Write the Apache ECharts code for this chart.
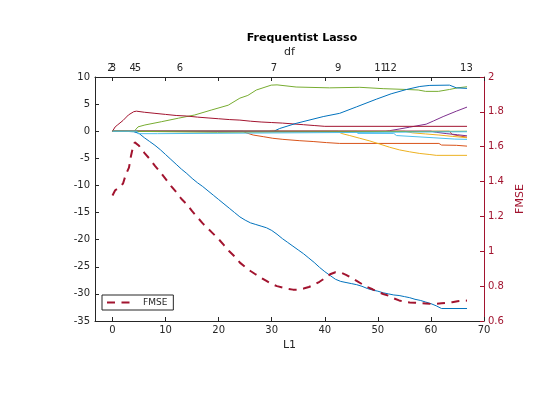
<!DOCTYPE html>
<html><head><meta charset="utf-8">
<script src="https://cdn.jsdelivr.net/npm/echarts@6/dist/echarts.min.js"></script>
<style>html,body{margin:0;padding:0;background:#fff}#c{width:560px;height:395px}</style>
</head><body><div id="c"></div>
<script>
// ---- data ----
const xMin = -3.3, xMax = 70;
const xTicks = [0, 10, 20, 30, 40, 50, 60, 70];
const dfLabels = ['2', '3', '4', '5', '6', '7', '9', '11', '12', '13'];
const dfPos = [-0.4, 0.1, 3.8, 4.8, 12.7, 30.4, 42.5, 50.5, 52.4, 66.7];

const coefA = [[0,0],[2,0],[4,-0.1],[5,-0.4],[6,-1.2],[7,-1.9],[8,-2.6],[9,-3.4],[10,-4.3],[11,-5.2],[12,-6.1],[13,-7.0],[14,-7.8],[15,-8.7],[16,-9.5],[17,-10.2],[18,-11.0],[19,-11.8],[20,-12.6],[21,-13.4],[22,-14.2],[23,-15.0],[24,-15.8],[25,-16.4],[26,-16.9],[27,-17.2],[28,-17.5],[29,-17.8],[30,-18.3],[31,-19.0],[32,-19.8],[33,-20.5],[34,-21.2],[35,-21.9],[36,-22.6],[37,-23.4],[38,-24.2],[39,-25.1],[40,-25.9],[41,-26.6],[42,-27.3],[43,-27.7],[44,-27.9],[45,-28.1],[46,-28.3],[47,-28.6],[48,-29.0],[49,-29.3],[50,-29.5],[51,-29.8],[52,-30.0],[53,-30.2],[54,-30.3],[55,-30.5],[56,-30.7],[57,-31.0],[58,-31.2],[59,-31.5],[60,-31.8],[61,-32.2],[62,-32.7],[66.8,-32.7]];
const coefC = [[0,0],[24.5,0],[25.2,-0.3],[26.5,-0.7],[28.4,-1.0],[30.2,-1.3],[32.1,-1.5],[35.3,-1.75],[37.8,-1.9],[40.3,-2.1],[42.8,-2.25],[61.5,-2.25],[62,-2.55],[64.8,-2.6],[65,-2.75],[66.8,-2.75]];
const coefE = [[0,0],[29.5,0],[30,0.15],[31,0.15],[31.5,0],[42.5,0],[43.1,-0.4],[44.7,-0.8],[46.6,-1.3],[48.5,-1.8],[50.3,-2.35],[52.2,-2.95],[54.1,-3.45],[56,-3.8],[57.9,-4.1],[59.8,-4.3],[61,-4.45],[66.8,-4.45]];
const coefG = [[0,0],[51.5,0],[52.2,0.1],[54,0.4],[56,0.75],[59.1,1.3],[60.5,1.9],[62.3,2.7],[64.8,3.7],[66.8,4.45]];
const coefI = [[0,0],[4.1,0],[4.8,0.8],[6.1,1.15],[9.2,1.75],[12.4,2.4],[15.5,3.0],[18.6,3.9],[21.8,4.8],[24,6.1],[25.5,6.6],[27.1,7.6],[29.9,8.5],[31,8.55],[34.6,8.15],[40.9,8.0],[46.6,8.1],[51,7.85],[55.4,7.7],[57.6,7.6],[59,7.35],[61.4,7.35],[63.5,7.7],[65,8.0],[66.8,8.2]];
const coefK = [[0,0],[46,0],[46.2,-0.4],[53,-0.4],[53.5,-0.8],[57,-1.0],[60.4,-1.2],[64.5,-1.45],[66.8,-1.5]];
const coefM = [[0,0],[0.5,0.8],[1,1.2],[2,2.0],[3,3.0],[4,3.6],[4.5,3.7],[6,3.5],[8,3.3],[10,3.1],[12,2.9],[14,2.8],[16,2.6],[18,2.45],[20,2.3],[22,2.15],[24,2.05],[26,1.85],[28,1.7],[30,1.6],[32,1.5],[34,1.35],[36,1.2],[38,1.05],[40,0.9],[66.8,0.9]];
const coefB = [[0,0],[30.4,0],[31.5,0.5],[34.6,1.45],[39.7,2.7],[42.8,3.3],[46,4.5],[49.7,5.9],[52.5,6.9],[55.4,7.7],[57.9,8.25],[59.8,8.45],[63.5,8.5],[64.8,8.0],[66.8,7.9]];
const coefD = [[0,0],[63.5,0],[64,-0.6],[65.5,-0.9],[66.8,-1.1]];
const coefF = [[0,0],[55,0],[56.5,-0.3],[59,-0.5],[61.5,-0.7],[64,-0.95],[66.8,-1.2]];
const coefH = [[0,0],[60,0],[61,-0.2],[63,-0.45],[65,-0.65],[66.8,-0.85]];
const coefJ = [[0,0],[2.4,0],[2.5,-0.2],[19.8,-0.2],[20,0],[66.8,0]];
const coefL = [[0,0],[4.6,0],[4.8,-0.45],[8.5,-0.45],[8.6,-0.1],[66.8,-0.1]];

const fmse = [[0,1.32],[0.5,1.35],[1.5,1.37],[2,1.39],[2.5,1.44],[3.1,1.48],[3.5,1.55],[3.8,1.59],[4.2,1.625],[5,1.605],[6,1.565],[7,1.53],[8,1.49],[9,1.455],[10,1.415],[11,1.375],[12,1.34],[13,1.30],[14,1.27],[15,1.23],[16,1.195],[17,1.16],[18,1.13],[19,1.10],[20,1.07],[21,1.035],[22,1.00],[23,0.97],[24,0.935],[25,0.91],[26,0.887],[27,0.867],[28,0.848],[29,0.83],[30,0.812],[31,0.80],[32,0.792],[33,0.785],[34,0.78],[35,0.78],[36,0.786],[37,0.795],[38,0.808],[39,0.825],[40,0.845],[41,0.868],[42,0.88],[43,0.878],[44,0.865],[45,0.848],[46,0.83],[47,0.812],[48,0.795],[49,0.782],[50,0.767],[51,0.755],[52,0.745],[53,0.73],[54,0.718],[55,0.71],[56,0.706],[57,0.705],[58,0.703],[59,0.701],[60,0.698],[61,0.699],[62,0.702],[63,0.705],[64,0.708],[65,0.713],[66,0.716],[66.8,0.717]];

const coefs = [coefA, coefC, coefE, coefG, coefI, coefK, coefM, coefB, coefD, coefF, coefH, coefJ, coefL];
const colorOrder = ['#0072BD','#D95319','#EDB120','#7E2F8E','#77AC30','#4DBEEE','#A2142F'];

// ---- chart ----
const FONT = 'DejaVu Sans';
const AX = '#262626';
const RED = '#A2142F';
const chart = echarts.init(document.getElementById('c'), null, {renderer: 'canvas'});

const series = coefs.map((d, i) => ({
  type: 'line', data: d, xAxisIndex: 0, yAxisIndex: 0,
  showSymbol: false, symbol: 'none', silent: true,
  lineStyle: {width: 1, color: colorOrder[i % 7]},
  itemStyle: {color: colorOrder[i % 7]}
}));
series.push({
  name: 'FMSE', type: 'line', data: fmse, xAxisIndex: 0, yAxisIndex: 1,
  showSymbol: false, symbol: 'none', silent: true,
  lineStyle: {width: 2, color: RED, type: [8, 6.5]},
  itemStyle: {color: RED}
});

// top axis: an empty label at the axis minimum keeps ECharts' min/max-label
// overlap check away from the real "2"/"3" labels
const dfLabelValues = [xMin].concat(dfPos);
function dfFormatter(v) {
  if (Math.abs(v - xMin) < 1e-6) return '';
  let best = 0;
  dfPos.forEach((p, i) => { if (Math.abs(p - v) < Math.abs(dfPos[best] - v)) best = i; });
  return dfLabels[best];
}

chart.setOption({
  animation: false,
  title: {
    text: 'Frequentist Lasso', left: 297, top: 28, textAlign: 'center',
    textStyle: {fontFamily: FONT, fontSize: 11, fontWeight: 'bold', color: '#000'}
  },
  legend: {
    data: ['FMSE'], left: 102, top: 295, orient: 'vertical',
    itemWidth: 24, itemHeight: 9, padding: [3, 6, 3, 4],
    borderColor: AX, borderWidth: 1, backgroundColor: '#fff',
    itemStyle: {opacity: 0},
    textStyle: {fontFamily: FONT, fontSize: 9, color: AX, padding: [0, 0, 0, 7]}
  },
  grid: {left: 95, right: 76, top: 77, bottom: 74, containLabel: false, outerBoundsMode: 'none'},
  xAxis: [{
    type: 'value', position: 'bottom', min: xMin, max: xMax,
    name: 'L1', nameLocation: 'middle', nameGap: 16,
    nameTextStyle: {fontFamily: FONT, fontSize: 11, color: AX},
    axisLine: {show: true, onZero: false, lineStyle: {color: AX, width: 1}},
    axisTick: {show: true, inside: true, length: 4, customValues: xTicks, lineStyle: {color: AX}},
    axisLabel: {customValues: xTicks, showMinLabel: true, showMaxLabel: true, margin: 4, fontFamily: FONT, fontSize: 10, color: AX},
    splitLine: {show: false}
  }, {
    type: 'value', position: 'top', min: xMin, max: xMax,
    name: 'df', nameLocation: 'middle', nameGap: 18,
    nameTextStyle: {fontFamily: FONT, fontSize: 11, color: AX},
    axisLine: {show: true, onZero: false, lineStyle: {color: AX, width: 1}},
    axisTick: {show: true, inside: true, length: 4, customValues: xTicks, lineStyle: {color: AX}},
    axisLabel: {
      customValues: dfLabelValues, hideOverlap: false,
      margin: 4, fontFamily: FONT, fontSize: 10, color: AX,
      formatter: dfFormatter
    },
    splitLine: {show: false}
  }],
  yAxis: [{
    type: 'value', position: 'left', min: -35, max: 10, interval: 5,
    axisLine: {show: true, onZero: false, lineStyle: {color: AX, width: 1}},
    axisTick: {show: true, inside: true, length: 4, lineStyle: {color: AX}},
    axisLabel: {margin: 5, fontFamily: FONT, fontSize: 10, color: AX},
    splitLine: {show: false}
  }, {
    type: 'value', position: 'right', min: 0.6, max: 2, interval: 0.2,
    name: 'FMSE', nameLocation: 'middle', nameGap: 19, nameRotate: 90,
    nameTextStyle: {fontFamily: FONT, fontSize: 11, color: RED},
    axisLine: {show: true, onZero: false, lineStyle: {color: RED, width: 1}},
    axisTick: {show: true, inside: true, length: 4, lineStyle: {color: RED}},
    axisLabel: {margin: 4, fontFamily: FONT, fontSize: 10, color: RED},
    splitLine: {show: false}
  }],
  series: series
});
</script>
</body></html>
